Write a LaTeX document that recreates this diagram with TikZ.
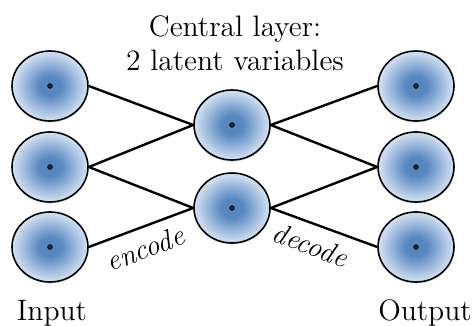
\documentclass[tikz,border=0pt]{standalone}
\usetikzlibrary{shapes.geometric,shadows}
\definecolor{blobin}{RGB}{88,135,192}
\definecolor{blobout}{RGB}{220,232,246}
\definecolor{dotcol}{RGB}{25,40,65}
\pgfdeclareradialshading{blob}{\pgfpoint{0bp}{0bp}}{color(0bp)=(blobin); color(7bp)=(blobin); color(26bp)=(blobout); color(50bp)=(blobout)}
\begin{document}
\begin{tikzpicture}[x=0.5pt,y=-0.5pt,
  unit/.style={ellipse, draw=black, line width=0.8pt, minimum width=38pt,
    minimum height=35pt, inner sep=0pt, shading=blob,
    drop shadow={shadow xshift=0pt, shadow yshift=-0.8pt, opacity=0.25},
    path picture={\filldraw[fill=dotcol, draw=black, line width=0.3pt]
      (path picture bounding box.center) circle (1.2pt);}},
  link/.style={line width=1.2pt},
  lbl/.style={font=\fontsize{14.8pt}{18pt}\selectfont, anchor=base, inner sep=0pt},
  edgelbl/.style={font=\Large\itshape, sloped, below=1.5pt}]
\useasboundingbox (0,0) rectangle (474,325);
\node[unit] (L1) at (50,86) {};
\node[unit] (L2) at (50,167) {};
\node[unit] (L3) at (50,247) {};
\node[unit] (M1) at (232,125) {};
\node[unit] (M2) at (232,208) {};
\node[unit] (R1) at (416,86) {};
\node[unit] (R2) at (416,167) {};
\node[unit] (R3) at (416,247) {};
\draw[link] (L1.east) -- (M1.west);
\draw[link] (L2.east) -- (M1.west);
\draw[link] (L2.east) -- (M2.west);
\draw[link] (L3.east) -- node[edgelbl, pos=0.47] (enc) {encode} (M2.west);
\draw[link] (M1.east) -- (R1.west);
\draw[link] (M1.east) -- (R2.west);
\draw[link] (M2.east) -- (R2.west);
\draw[link] (M2.east) -- node[edgelbl, pos=0.44] (dec) {decode} (R3.west);
\node[lbl] (t1) at (235,37) {Central layer:};
\node[lbl] (t2) at (235,71) {2 latent variables};
\node[lbl] (in) at (52,320) {Input};
\node[lbl] (out) at (425,320) {Output};
\end{tikzpicture}
\end{document}
